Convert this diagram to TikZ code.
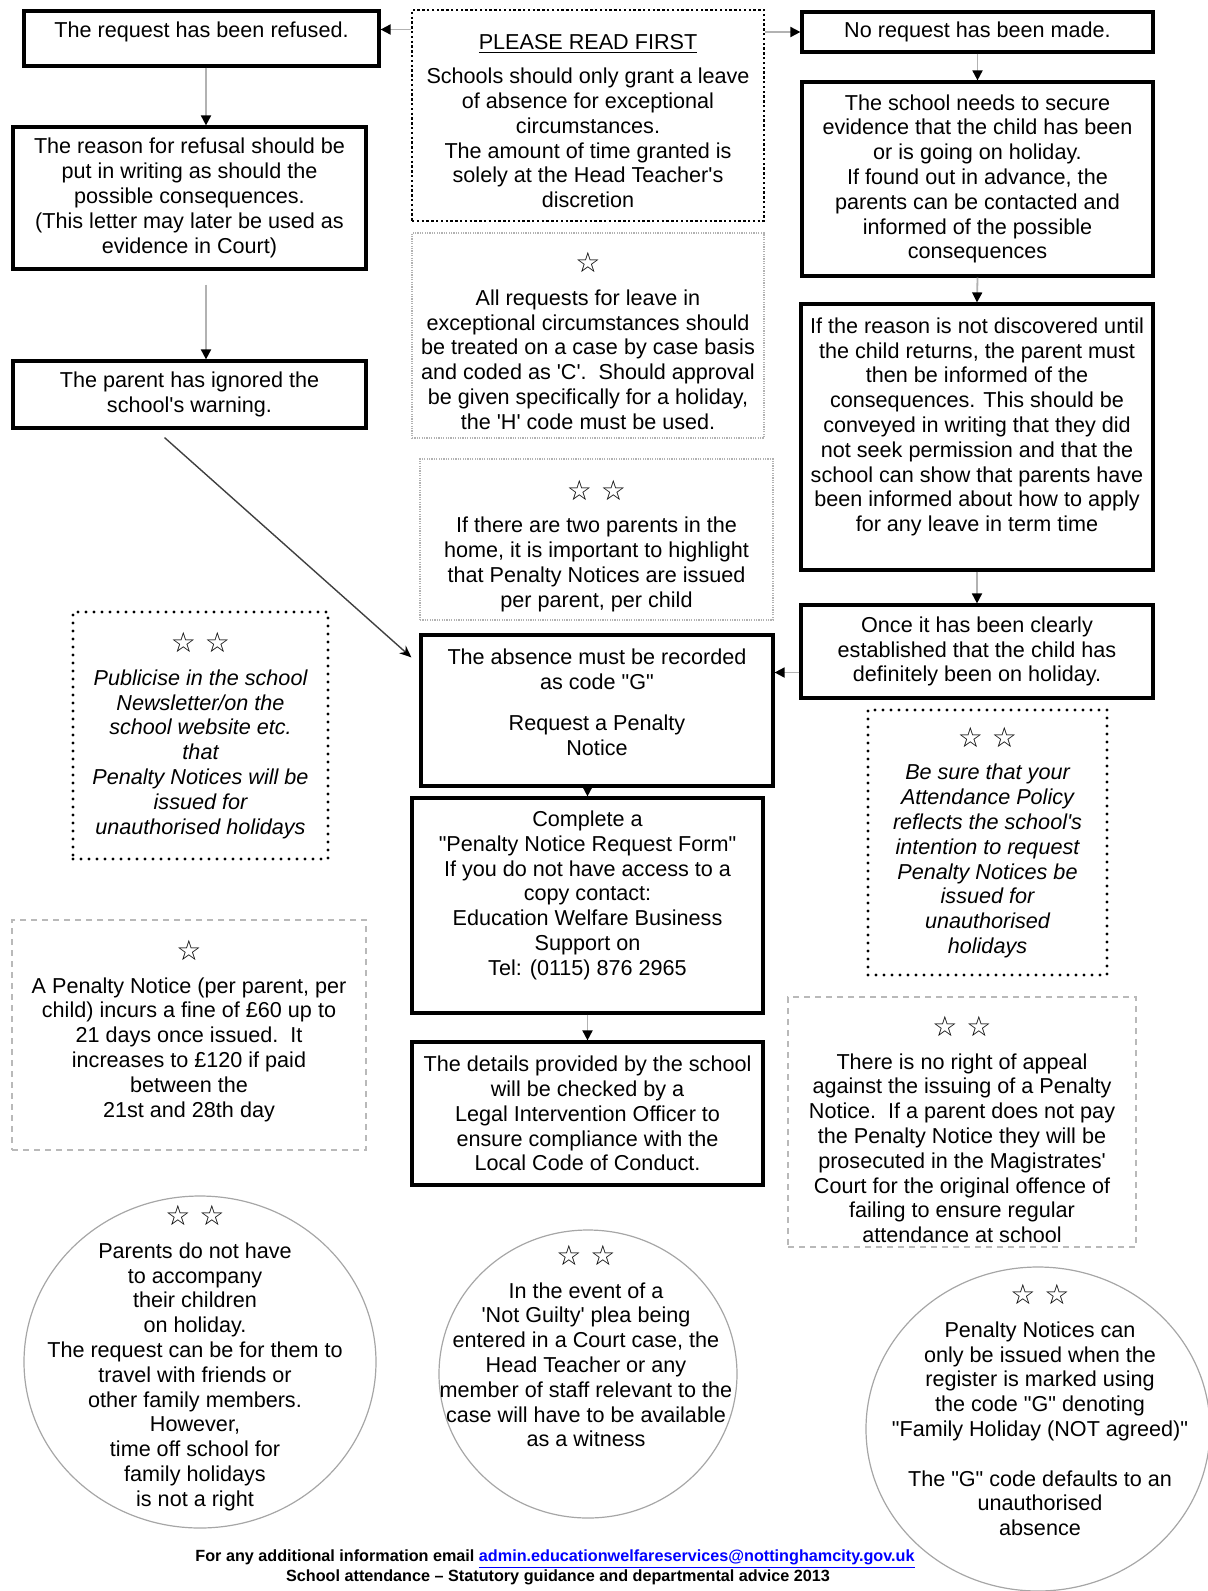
\documentclass[tikz,border=0pt]{standalone}
\usepackage{fontspec}
\setmainfont{Liberation Sans}[Ligatures=TeXOff]
\newfontfamily\starfont{DejaVu Sans}
\usetikzlibrary{arrows.meta,shapes.geometric,calc}

\newcommand\boxfont{\fontsize{10.8}{12.4}\selectfont}
\newcommand\stars[1]{{\starfont\fontsize{14}{14}\selectfont #1}\\[4pt]}
\newcommand\lift[1]{\rule{0pt}{#1}}

\tikzset{
  flowbox/.style={draw, line width=1.6pt, inner sep=0pt, align=center, font=\boxfont},
  readbox/.style={draw, line width=1.3pt, dash pattern=on 1.2pt off 1.2pt, inner sep=0pt, align=center, font=\boxfont},
  notebox/.style={draw=gray!60, line width=0.8pt, dash pattern=on 0.6pt off 0.6pt, inner sep=0pt, align=center, font=\boxfont},
  tipbox/.style={draw, line width=1.6pt, dash pattern=on 0pt off 4pt, line cap=round, inner sep=0pt, align=center, font=\boxfont\itshape},
  finebox/.style={draw=gray!55, line width=1.1pt, dash pattern=on 3pt off 2.5pt, inner sep=0pt, align=center, font=\boxfont},
  roundnote/.style={ellipse, draw=gray!70, line width=0.6pt, inner sep=0pt},
  notetext/.style={align=center, font=\boxfont},
  link/.style={draw=gray!60, line width=0.9pt, -{Triangle[color=black, length=5pt, width=5pt]}},
  longlink/.style={draw=black!75, line width=0.7pt, -{Stealth[color=black, length=6pt, width=5pt]}}
}

\begin{document}
\begin{tikzpicture}[x=0.5pt,y=-0.5pt]
\useasboundingbox (0,0) rectangle (1207,1591);

% left column
\node[flowbox, minimum width=177.5pt, minimum height=27.5pt] (refused) at (201.5,38.5) {The request has been refused.\\[-4pt]\mbox{}};
\node[flowbox, minimum width=176.5pt, minimum height=71pt] (reason) at (189.5,198) {The reason for refusal should be\\put in writing as should the\\possible consequences.\\(This letter may later be used as\\evidence in Court)};
\node[flowbox, minimum width=176.5pt, minimum height=33.5pt] (ignored) at (189.5,394.5) {The parent has ignored the\\school's warning.};
\node[tipbox, minimum width=127.5pt, minimum height=123.5pt] (publicise) at (200.5,735.5) {\stars{☆ ☆}Publicise in the school\\Newsletter/on the\\school website etc.\\that\\Penalty Notices will be\\issued for\\unauthorised holidays};
\node[finebox, minimum width=177pt, minimum height=115pt] (fine) at (189,1035) {\stars{☆}A Penalty Notice (per parent, per\\child) incurs a fine of £60 up to\\21 days once issued.\ \ It\\increases to £120 if paid\\between the\\21st and 28th day\\[-6pt]\mbox{}};

% middle column
\node[readbox, minimum width=176pt, minimum height=105.5pt] (please) at (588,115.5) {\lift{13pt}\underline{PLEASE READ FIRST}\\[5pt]Schools should only grant a leave\\of absence for exceptional\\circumstances.\\The amount of time granted is\\solely at the Head Teacher's\\discretion};
\node[notebox, minimum width=176pt, minimum height=102.5pt] (allreq) at (588,335.5) {\lift{15.5pt}\stars{☆}All requests for leave in\\exceptional circumstances should\\be treated on a case by case basis\\and coded as 'C'.\ \ Should approval\\be given specifically for a holiday,\\the 'H' code must be used.};
\node[notebox, minimum width=176.5pt, minimum height=80.5pt] (twopar) at (596.5,539.5) {\lift{16.5pt}\stars{☆ ☆}If there are two parents in the\\home, it is important to highlight\\that Penalty Notices are issued\\per parent, per child};
\node[flowbox, minimum width=176pt, minimum height=75.5pt] (absence) at (597,710.5) {The absence must be recorded\\as code "G"\\[8pt]Request a Penalty\\Notice\\[-4pt]\mbox{}};
\node[flowbox, minimum width=175.5pt, minimum height=107.5pt] (complete) at (587.5,905.5) {Complete a\\"Penalty Notice Request Form"\\If you do not have access to a\\copy contact:\\Education Welfare Business\\Support on\\Tel: (0115) 876 2965\\\mbox{}};
\node[flowbox, minimum width=175.5pt, minimum height=71.5pt] (details) at (587.5,1113.5) {The details provided by the school\\will be checked by a\\Legal Intervention Officer to\\ensure compliance with the\\Local Code of Conduct.};

% right column
\node[flowbox, minimum width=175.5pt, minimum height=20pt] (norequest) at (977.5,32) {No request has been made.};
\node[flowbox, minimum width=175.5pt, minimum height=97pt] (needs) at (977.5,179) {The school needs to secure\\evidence that the child has been\\or is going on holiday.\\If found out in advance, the\\parents can be contacted and\\informed of the possible\\consequences};
\node[flowbox, minimum width=176pt, minimum height=133pt] (notfound) at (977,437) {If the reason is not discovered until\\the child returns, the parent must\\then be informed of the\\consequences. This should be\\conveyed in writing that they did\\not seek permission and that the\\school can show that parents have\\been informed about how to apply\\for any leave in term time\\\mbox{}};
\node[flowbox, minimum width=176pt, minimum height=46.5pt] (once) at (977,651.5) {Once it has been clearly\\established that the child has\\definitely been on holiday.};
\node[tipbox, minimum width=119.5pt, minimum height=132.5pt] (besure) at (987.5,842.5) {\stars{☆ ☆}Be sure that your\\Attendance Policy\\reflects the school's\\intention to request\\Penalty Notices be\\issued for\\unauthorised\\holidays};
\node[finebox, minimum width=174pt, minimum height=125pt] (appeal) at (962,1122) {\lift{17.5pt}\stars{☆ ☆}There is no right of appeal\\against the issuing of a Penalty\\Notice.\ \ If a parent does not pay\\the Penalty Notice they will be\\prosecuted in the Magistrates'\\Court for the original offence of\\failing to ensure regular\\attendance at school};

% round notes
\node[roundnote, minimum width=176pt, minimum height=166pt] (leftnote) at (200,1362) {};
\node[notetext] (lefttext) at (195,1358) {\stars{☆ ☆}Parents do not have\\to accompany\\their children\\on holiday.\\The request can be for them to\\travel with friends or\\other family members.\\However,\\time off school for\\family holidays\\is not a right};
\node[roundnote, minimum width=149pt, minimum height=144pt] (midnote) at (588,1374) {};
\node[notetext] (midtext) at (586,1346) {\stars{☆ ☆}In the event of a\\'Not Guilty' plea being\\entered in a Court case, the\\Head Teacher or any\\member of staff relevant to the\\case will have to be available\\as a witness};
\node[roundnote, minimum width=172pt, minimum height=162pt] (rightnote) at (1038,1429) {};
\node[notetext] (righttext) at (1040,1410) {\stars{☆ ☆}Penalty Notices can\\only be issued when the\\register is marked using\\the code "G" denoting\\"Family Holiday (NOT agreed)"\\[12.4pt]The "G" code defaults to an\\unauthorised\\absence};

% footer
\node[font=\fontsize{8.1}{9}\selectfont\bfseries] (mail) at (555,1559) {For any additional information email \textcolor{blue}{\underline{admin.educationwelfareservices@nottinghamcity.gov.uk}}};
\node[font=\fontsize{8.1}{9}\selectfont\bfseries] (source) at (558,1577) {School attendance – Statutory guidance and departmental advice 2013};

% connectors
\draw[link] ([yshift=4.5pt]please.west |- refused.east) -- ([yshift=4.5pt]refused.east);
\draw[link] (please.east |- norequest.west) -- (norequest.west);
\draw[link] (refused.south -| 206,0) -- (reason.north -| 206,0);
\draw[link, shorten <=7pt] (reason.south -| 206,0) -- (ignored.north -| 206,0);
\draw[longlink] ($(ignored.south west)!0.43!(ignored.south east)+(0,8)$) -- ($(absence.north west)+(-8,24)$);
\draw[link] (norequest.south) -- (needs.north);
\draw[link] (needs.south) -- (notfound.north);
\draw[link] (notfound.south) -- (once.north);
\draw[link] ([yshift=-10.5pt]once.west) -- ([yshift=-10.5pt]once.west -| absence.east);
\draw[link] (absence.south -| complete.north) -- (complete.north);
\draw[link] (complete.south) -- (details.north);
\end{tikzpicture}
\end{document}
